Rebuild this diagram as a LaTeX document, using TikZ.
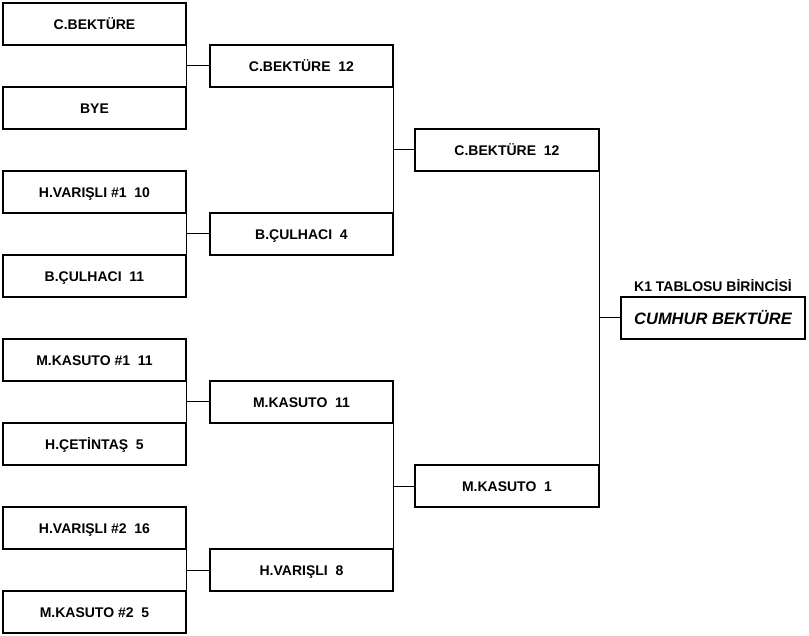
\documentclass[tikz,border=0pt]{standalone}
\usepackage{fontspec}
\setmainfont{Liberation Sans}
\newcommand{\gp}{\ \ }
\begin{document}
\begin{tikzpicture}[x=1pt,y=-1pt,
  pbox/.style={draw, line width=2pt, minimum width=183pt, minimum height=42pt,
    inner sep=0pt, outer sep=0pt, font=\fontsize{14}{17}\selectfont\bfseries,
    text height=11.5pt, text depth=0pt},
  conn/.style={line width=1pt}]
\useasboundingbox (0,0) rectangle (809,636);
% round 1
\node[pbox] (a1) at (94.5,24)  {C.BEKTÜRE};
\node[pbox] (a2) at (94.5,108) {BYE};
\node[pbox] (a3) at (94.5,192) {H.VARIŞLI \#1\gp 10};
\node[pbox] (a4) at (94.5,276) {B.ÇULHACI\gp 11};
\node[pbox] (a5) at (94.5,360) {M.KASUTO \#1\gp 11};
\node[pbox] (a6) at (94.5,444) {H.ÇETİNTAŞ\gp 5};
\node[pbox] (a7) at (94.5,528) {H.VARIŞLI \#2\gp 16};
\node[pbox] (a8) at (94.5,612) {M.KASUTO \#2\gp 5};
% round 2
\node[pbox] (b1) at (301.5,66)  {C.BEKTÜRE\gp 12};
\node[pbox] (b2) at (301.5,234) {B.ÇULHACI\gp 4};
\node[pbox] (b3) at (301.5,402) {M.KASUTO\gp 11};
\node[pbox] (b4) at (301.5,570) {H.VARIŞLI\gp 8};
% round 3
\node[pbox, minimum width=184pt] (c1) at (507,150) {C.BEKTÜRE\gp 12};
\node[pbox, minimum width=184pt] (c2) at (507,486) {M.KASUTO\gp 1};
% final
\node[pbox, minimum width=184pt, font=\fontsize{16.5}{19}\selectfont\bfseries\itshape, text height=13pt] (f) at (713,318) {CUMHUR BEKTÜRE};
\node[font=\fontsize{14}{17}\selectfont\bfseries, inner sep=0pt, text height=10pt, text depth=0pt] (t) at (713,287) {K1 TABLOSU BİRİNCİSİ};
% connectors
\foreach \u/\l/\n in {a1/a2/b1, a3/a4/b2, a5/a6/b3, a7/a8/b4, b1/b2/c1, b3/b4/c2, c1/c2/f} {
  \draw[conn] (\u.south east) -- (\l.north east);
  \draw[conn] (\n.west -| \u.east) -- (\n.west);
}
\end{tikzpicture}
\end{document}
